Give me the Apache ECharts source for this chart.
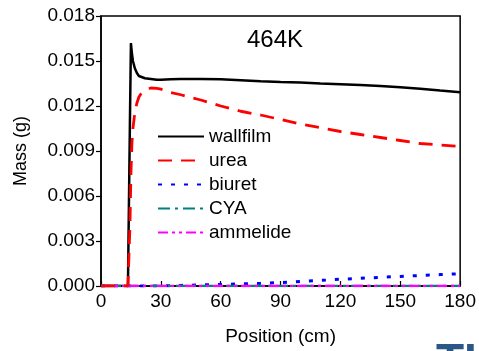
<!DOCTYPE html>
<html>
<head>
<meta charset="utf-8">
<script src="https://cdn.jsdelivr.net/npm/echarts@6/dist/echarts.min.js"></script>
<style>
  html, body { margin: 0; padding: 0; background: #fff; }
  #chart { width: 479px; height: 351px; }
</style>
</head>
<body>
<div id="chart"></div>
<script>
// Position along the wall (cm)
const positions = [0, 13.5, 14, 14.5, 15, 15.5, 16, 17, 18, 19, 20, 22, 25, 28, 30, 35, 40, 50, 60, 70, 80, 90, 100, 110, 120, 130, 140, 150, 160, 170, 180];

// Mass (g) of each species at those positions
const wallfilm = [0, 0, 0.0055, 0.011, 0.0162, 0.0155, 0.0150, 0.0145, 0.0142, 0.0140, 0.0139, 0.01385, 0.0138, 0.01375, 0.01375, 0.01378, 0.0138, 0.0138, 0.01378, 0.01372, 0.01365, 0.0136, 0.01357, 0.0135, 0.01345, 0.0134, 0.01333, 0.01325, 0.01315, 0.01303, 0.01292];
const urea = [0, 0, 0, 0.004, 0.0075, 0.0095, 0.0105, 0.0116, 0.0122, 0.0126, 0.0128, 0.01305, 0.0132, 0.01318, 0.01312, 0.0129, 0.01275, 0.0124, 0.0120, 0.01165, 0.0114, 0.0111, 0.0108, 0.01055, 0.0103, 0.0101, 0.0099, 0.0097, 0.0095, 0.0094, 0.0093];
const biuret = [0, 0, 0, 0, 0, 0, 0, 0, 0, 0, 0, 0, 0, 0, 0, 0.00002, 0.00004, 0.00007, 0.0001, 0.00014, 0.00018, 0.00023, 0.0003, 0.00037, 0.00045, 0.00051, 0.00058, 0.00064, 0.0007, 0.00076, 0.00082];
const cya = [0, 0, 0, 0, 0, 0, 0, 0, 0, 0, 0, 0, 0, 0, 0, 0, 0, 0, 0, 0, 0, 0, 0, 0, 0, 0, 0, 0, 0, 0, 0];
const ammelide = [0, 0, 0, 0, 0, 0, 0, 0, 0, 0, 0, 0, 0, 0, 0, 0, 0, 0, 0, 0, 0, 0, 0, 0, 0, 0, 0, 0, 0, 0, 0];

const xTicks = [0, 30, 60, 90, 120, 150, 180];
const yTicks = [0, 0.003, 0.006, 0.009, 0.012, 0.015, 0.018];

const FONT = '"Liberation Sans", Arial, sans-serif';
const pairs = vals => positions.map((p, i) => [p, vals[i]]);

const seriesDefs = [
  { name: 'wallfilm', data: wallfilm, color: '#000000', type: 'solid', width: 2.5 },
  { name: 'urea', data: urea, color: '#ff0000', type: [14, 9], width: 2.8 },
  { name: 'biuret', data: biuret, color: '#0000ff', type: [4, 9], width: 3 },
  { name: 'CYA', data: cya, color: '#008080', type: [12, 5, 3, 5], width: 2.5 },
  { name: 'ammelide', data: ammelide, color: '#ff00ff', type: [10, 4, 3, 4, 3, 4], width: 2.5 }
];

const chart = echarts.init(document.getElementById('chart'), null, { renderer: 'canvas' });

chart.setOption({
  animation: false,
  backgroundColor: '#ffffff',
  grid: {
    left: 101, top: 16, right: 17, bottom: 64,
    show: true, borderColor: '#000', borderWidth: 1.5
  },
  title: {
    text: '464K',
    left: 247, top: 28, padding: 0,
    textStyle: { fontFamily: FONT, fontSize: 24, fontWeight: 'normal', color: '#000' }
  },
  legend: {
    orient: 'vertical',
    left: 157, top: 126, padding: 0,
    itemWidth: 46, itemHeight: 14, itemGap: 3,
    itemStyle: { opacity: 0 },
    textStyle: { fontFamily: FONT, fontSize: 19, color: '#000', lineHeight: 21, padding: [0, 0, 0, 0] },
    data: seriesDefs.map(s => s.name)
  },
  xAxis: {
    type: 'value',
    min: 0, max: 180, interval: 30,
    name: 'Position (cm)',
    nameLocation: 'middle', nameGap: 41,
    nameTextStyle: { fontFamily: FONT, fontSize: 19, color: '#000' },
    axisLine: { lineStyle: { color: '#000', width: 1.5 } },
    axisTick: { inside: true, length: 5, lineStyle: { color: '#000', width: 1.2 } },
    axisLabel: {
      fontFamily: FONT, fontSize: 19, color: '#000', margin: 6,
      formatter: v => xTicks.includes(v) ? String(v) : ''
    },
    splitLine: { show: false }
  },
  yAxis: {
    type: 'value',
    min: 0, max: 0.018, interval: 0.003,
    name: 'Mass (g)',
    nameLocation: 'middle', nameGap: 71, nameRotate: 90,
    nameTextStyle: { fontFamily: FONT, fontSize: 18, color: '#000' },
    axisLine: { lineStyle: { color: '#000', width: 1.5 } },
    axisTick: { inside: false, length: 5, lineStyle: { color: '#000', width: 1.2 } },
    axisLabel: {
      fontFamily: FONT, fontSize: 19, color: '#000', margin: 6,
      formatter: v => {
        const t = yTicks.find(y => Math.abs(y - v) < 1e-9);
        return t === undefined ? '' : t.toFixed(3);
      }
    },
    splitLine: { show: false }
  },
  series: seriesDefs.map(s => ({
    name: s.name,
    type: 'line',
    data: pairs(s.data),
    showSymbol: false,
    symbol: 'none',
    smooth: false,
    color: s.color,
    lineStyle: { color: s.color, width: s.width, type: s.type },
    z: s.name === 'urea' ? 3 : 2
  })),
  graphic: [
    {
      type: 'text',
      left: 436, top: 340,
      style: { text: 'TI', fontFamily: FONT, fontSize: 46, fontWeight: 'bold', fill: '#2b5787' }
    }
  ]
});
</script>
</body>
</html>
